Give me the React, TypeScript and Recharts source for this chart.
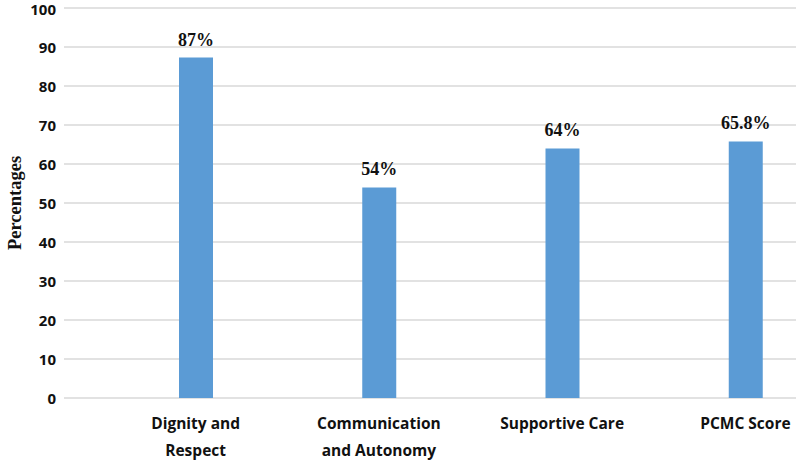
import React from 'react';
import { BarChart, Bar, XAxis, YAxis, CartesianGrid, LabelList } from 'recharts';

const categories = ['Dignity and\nRespect', 'Communication\nand Autonomy', 'Supportive Care', 'PCMC Score'];
const values = [87.3, 54, 64, 65.8];
const valueLabels = ['87%', '54%', '64%', '65.8%'];
const yTicks = [0, 10, 20, 30, 40, 50, 60, 70, 80, 90, 100];

const data = categories.map((c, i) => ({ name: c, value: values[i], label: valueLabels[i] }));

const SANS = '"Open Sans", "Liberation Sans", sans-serif';
const SERIF = '"Liberation Serif", "Times New Roman", serif';

const XTick = (props: any) => {
  const { x, y, payload } = props;
  const lines = String(payload.value).split('\n');
  return (
    <text x={x} y={y} textAnchor="middle" fontFamily={SANS} fontWeight={700} fontSize={15.5} fill="#111">
      {lines.map((l, i) => (
        <tspan key={i} x={x} dy={i === 0 ? 23 : 27}>{l}</tspan>
      ))}
    </text>
  );
};

export default function App() {
  return (
    <div style={{ position: 'absolute', left: 0, top: 0, width: 796, height: 460, overflow: 'hidden', background: '#fff' }}>
      <BarChart width={837} height={460} data={data} margin={{ top: 8, right: 0, bottom: 0, left: 0 }}>
        <CartesianGrid vertical={false} stroke="#d9d9d9" strokeWidth={1.5} />
        <XAxis
          dataKey="name"
          interval={0}
          axisLine={false}
          tickLine={false}
          height={62}
          padding={{ left: 40, right: 0 }}
          tick={<XTick />}
        />
        <YAxis
          domain={[0, 100]}
          ticks={yTicks}
          width={64}
          axisLine={false}
          tickLine={false}
          tick={{ fontFamily: SANS, fontWeight: 700, fontSize: 15, fill: '#111', dy: 1 }}
          label={{ value: 'Percentages', angle: -90, position: 'insideLeft', offset: 14, textAnchor: 'middle', style: { textAnchor: 'middle', fontFamily: SERIF, fontWeight: 700, fontSize: 18.5, fill: '#111' } }}
        />
        <Bar dataKey="value" fill="#5b9bd5" barSize={34} isAnimationActive={false}>
          <LabelList dataKey="label" position="top" offset={12} style={{ fontFamily: SERIF, fontWeight: 700, fontSize: 18, fill: '#111' }} />
        </Bar>
      </BarChart>
    </div>
  );
}
